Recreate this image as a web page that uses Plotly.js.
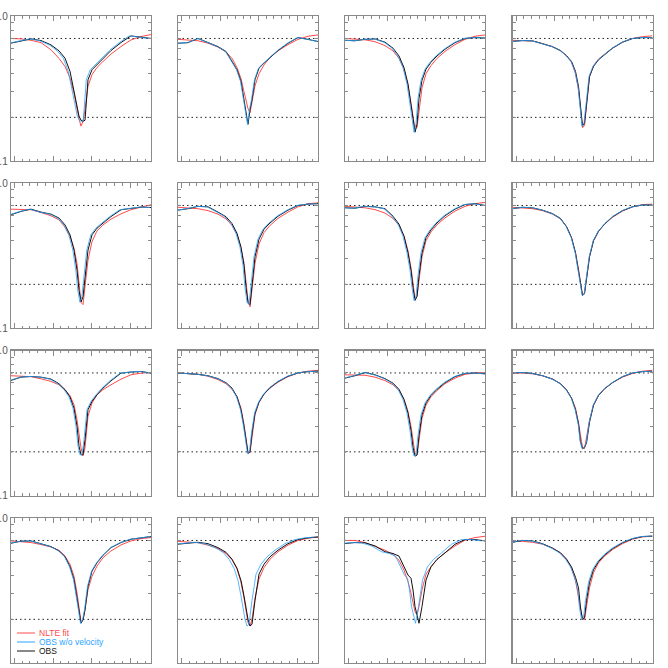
<!DOCTYPE html>
<html>
<head>
<meta charset="utf-8">
<script src="https://cdn.plot.ly/plotly-3.0.1.min.js"></script>
<style>html,body{margin:0;padding:0;background:#fff;}#chart{width:668px;height:668px;}</style>
</head>
<body>
<div id="chart"></div>
<script>
// wavelength offset from line centre (arbitrary units)
const xGrid = [-0.70,-0.60,-0.50,-0.40,-0.30,-0.22,-0.16,-0.11,-0.07,-0.04,-0.02,0,0.02,0.04,0.07,0.11,0.16,0.22,0.30,0.40,0.50,0.60,0.70];

// NLTE fit profiles, panels 1..16 (row by row)
const nlteFit1  = [0.700,0.695,0.680,0.655,0.585,0.510,0.449,0.373,0.294,0.226,0.195,0.174,0.188,0.226,0.327,0.394,0.442,0.486,0.546,0.616,0.684,0.721,0.745];
const nlteFit2  = [0.690,0.685,0.675,0.650,0.610,0.565,0.510,0.440,0.370,0.300,0.262,0.230,0.215,0.250,0.330,0.400,0.460,0.520,0.575,0.635,0.690,0.725,0.740];
const nlteFit3  = [0.700,0.695,0.685,0.665,0.625,0.575,0.510,0.430,0.330,0.250,0.200,0.165,0.170,0.220,0.320,0.400,0.455,0.510,0.570,0.635,0.690,0.725,0.740];
const nlteFit4  = [0.680,0.680,0.672,0.645,0.612,0.575,0.530,0.480,0.400,0.310,0.230,0.170,0.175,0.250,0.380,0.455,0.505,0.545,0.600,0.660,0.700,0.720,0.730];
const nlteFit5  = [0.660,0.657,0.654,0.626,0.594,0.557,0.496,0.427,0.355,0.279,0.214,0.150,0.145,0.192,0.294,0.394,0.468,0.514,0.563,0.613,0.654,0.682,0.708];
const nlteFit6  = [0.680,0.675,0.665,0.645,0.610,0.565,0.510,0.440,0.360,0.280,0.210,0.155,0.140,0.180,0.280,0.380,0.455,0.510,0.570,0.630,0.685,0.720,0.730];
const nlteFit7  = [0.690,0.685,0.675,0.655,0.620,0.570,0.510,0.430,0.340,0.260,0.200,0.160,0.165,0.210,0.310,0.400,0.460,0.515,0.575,0.640,0.690,0.720,0.735];
const nlteFit8  = [0.680,0.675,0.665,0.645,0.610,0.565,0.500,0.420,0.330,0.255,0.200,0.168,0.175,0.220,0.310,0.400,0.465,0.520,0.580,0.640,0.685,0.710,0.715];
const nlteFit9  = [0.670,0.666,0.660,0.638,0.612,0.580,0.537,0.488,0.423,0.333,0.256,0.213,0.188,0.213,0.352,0.434,0.495,0.537,0.580,0.635,0.680,0.698,0.706];
const nlteFit10 = [0.700,0.695,0.685,0.665,0.630,0.590,0.540,0.480,0.400,0.310,0.245,0.200,0.198,0.250,0.360,0.440,0.500,0.550,0.605,0.660,0.700,0.720,0.730];
const nlteFit11 = [0.680,0.680,0.675,0.655,0.620,0.580,0.530,0.460,0.380,0.300,0.240,0.195,0.190,0.240,0.340,0.420,0.480,0.530,0.590,0.645,0.685,0.700,0.705];
const nlteFit12 = [0.700,0.700,0.690,0.670,0.635,0.590,0.535,0.470,0.400,0.320,0.260,0.215,0.210,0.250,0.330,0.420,0.490,0.545,0.600,0.655,0.695,0.720,0.730];
const nlteFit13 = [0.695,0.688,0.677,0.656,0.631,0.599,0.547,0.479,0.397,0.304,0.245,0.193,0.198,0.233,0.321,0.397,0.466,0.532,0.593,0.652,0.695,0.721,0.733];
const nlteFit14 = [0.690,0.685,0.675,0.650,0.615,0.570,0.515,0.445,0.360,0.280,0.225,0.190,0.180,0.200,0.280,0.380,0.455,0.520,0.585,0.650,0.700,0.725,0.740];
const nlteFit15 = [0.700,0.700,0.677,0.639,0.600,0.560,0.512,0.437,0.364,0.303,0.258,0.226,0.215,0.245,0.319,0.410,0.461,0.518,0.575,0.642,0.703,0.733,0.748];
const nlteFit16 = [0.690,0.690,0.680,0.660,0.620,0.575,0.520,0.450,0.370,0.290,0.235,0.200,0.200,0.240,0.330,0.420,0.490,0.545,0.605,0.665,0.715,0.740,0.750];

// observed profiles (velocity corrected), panels 1..16
const obs1  = [0.650,0.670,0.695,0.677,0.632,0.575,0.512,0.415,0.310,0.239,0.204,0.191,0.188,0.191,0.363,0.426,0.461,0.512,0.578,0.656,0.729,0.714,0.700];
const obs2  = [0.649,0.655,0.700,0.660,0.615,0.569,0.486,0.426,0.354,0.272,0.215,0.179,0.226,0.265,0.364,0.437,0.473,0.518,0.578,0.649,0.710,0.690,0.667];
const obs3  = [0.680,0.675,0.690,0.695,0.660,0.600,0.530,0.440,0.340,0.250,0.190,0.158,0.180,0.270,0.360,0.430,0.480,0.530,0.590,0.655,0.700,0.710,0.705];
const obs4  = [0.667,0.677,0.674,0.642,0.615,0.578,0.532,0.486,0.415,0.327,0.239,0.174,0.183,0.252,0.383,0.449,0.499,0.540,0.600,0.660,0.699,0.710,0.710];
const obs5  = [0.604,0.637,0.660,0.630,0.610,0.573,0.514,0.439,0.345,0.251,0.182,0.151,0.164,0.226,0.345,0.439,0.488,0.529,0.587,0.654,0.667,0.682,0.678];
const obs6  = [0.650,0.665,0.690,0.685,0.630,0.585,0.525,0.450,0.360,0.270,0.190,0.150,0.145,0.200,0.310,0.410,0.480,0.530,0.590,0.650,0.700,0.715,0.720];
const obs7  = [0.675,0.670,0.690,0.685,0.665,0.590,0.520,0.430,0.330,0.250,0.190,0.155,0.165,0.230,0.330,0.420,0.475,0.530,0.595,0.660,0.710,0.720,0.700];
const obs8  = [0.665,0.680,0.675,0.650,0.615,0.570,0.500,0.420,0.330,0.250,0.195,0.168,0.172,0.220,0.310,0.400,0.465,0.520,0.585,0.645,0.685,0.705,0.705];
const obs9  = [0.622,0.655,0.662,0.655,0.635,0.590,0.537,0.478,0.400,0.300,0.219,0.191,0.191,0.243,0.391,0.446,0.495,0.550,0.618,0.698,0.710,0.717,0.698];
const obs10 = [0.700,0.695,0.685,0.670,0.640,0.600,0.550,0.480,0.390,0.300,0.235,0.195,0.200,0.270,0.370,0.440,0.500,0.555,0.610,0.665,0.700,0.715,0.720];
const obs11 = [0.645,0.670,0.705,0.680,0.640,0.595,0.540,0.460,0.370,0.280,0.215,0.187,0.190,0.260,0.360,0.435,0.490,0.540,0.600,0.660,0.695,0.700,0.690];
const obs12 = [0.700,0.705,0.695,0.670,0.635,0.590,0.535,0.470,0.390,0.310,0.235,0.210,0.215,0.230,0.320,0.420,0.490,0.545,0.600,0.660,0.700,0.715,0.720];
const obs13 = [0.670,0.692,0.695,0.666,0.635,0.593,0.541,0.461,0.376,0.281,0.220,0.188,0.198,0.233,0.338,0.430,0.491,0.553,0.625,0.677,0.714,0.733,0.745];
const obs14 = [0.660,0.670,0.680,0.665,0.625,0.580,0.520,0.450,0.370,0.290,0.235,0.200,0.180,0.185,0.270,0.410,0.480,0.540,0.600,0.665,0.710,0.730,0.740];
const obs15 = [0.667,0.677,0.674,0.642,0.585,0.569,0.546,0.461,0.404,0.384,0.319,0.245,0.209,0.188,0.245,0.373,0.461,0.518,0.575,0.659,0.710,0.710,0.695];
const obs16 = [0.680,0.700,0.695,0.665,0.620,0.575,0.520,0.460,0.390,0.330,0.240,0.200,0.205,0.270,0.360,0.440,0.500,0.555,0.615,0.675,0.720,0.745,0.750];

// line-of-sight velocity shift (wavelength units) removed from the observations
const velocityShift = [0.017,0.005,0.010,0.005,0.012,0.010,0.010,0.003,0.010,0.005,0.010,0.003,0.005,0.030,0.035,0.010];

const nlteFits = [nlteFit1,nlteFit2,nlteFit3,nlteFit4,nlteFit5,nlteFit6,nlteFit7,nlteFit8,nlteFit9,nlteFit10,nlteFit11,nlteFit12,nlteFit13,nlteFit14,nlteFit15,nlteFit16];
const observed = [obs1,obs2,obs3,obs4,obs5,obs6,obs7,obs8,obs9,obs10,obs11,obs12,obs13,obs14,obs15,obs16];

const refLevels = [0.7, 0.2];
const yTickVals = [0.1,0.2,0.3,0.4,0.5,0.6,0.7,0.8,0.9,1.0];
const yTickText = ['0.1','','','','','','','','','1.0'];
const seriesNames = ['NLTE fit','OBS w/o velocity','OBS'];

const W = 668, H = 668;
const colLeft = [11, 178, 345, 512.5];
const rowTop = [16, 183, 350.5, 518];
const pw = 140, ph = 145;

const RED = '#ff4a4a', BLUE = '#2aa5ff', BLACK = '#111111', AXC = '#8a8a8a';

const traces = [];
const layout = {
  width: W, height: H, margin: {l:0, r:0, t:0, b:0},
  paper_bgcolor: '#fff', plot_bgcolor: '#fff', showlegend: false,
  shapes: [], annotations: []
};

for (let i = 0; i < 16; i++) {
  const r = Math.floor(i / 4), c = i % 4;
  const xs = i === 0 ? '' : String(i + 1);
  const xa = 'x' + xs, ya = 'y' + xs;
  const blueX = xGrid.map(v => v - velocityShift[i]);
  traces.push({x: xGrid, y: nlteFits[i], xaxis: xa, yaxis: ya, type: 'scatter', mode: 'lines', line: {color: RED, width: 1}, hoverinfo: 'skip'});
  traces.push({x: xGrid, y: observed[i], xaxis: xa, yaxis: ya, type: 'scatter', mode: 'lines', line: {color: BLACK, width: 1}, hoverinfo: 'skip'});
  traces.push({x: blueX, y: observed[i], xaxis: xa, yaxis: ya, type: 'scatter', mode: 'lines', line: {color: BLUE, width: 1}, opacity: 0.8, hoverinfo: 'skip'});

  const x0 = colLeft[c] / W, x1 = (colLeft[c] + pw) / W;
  const y1 = 1 - rowTop[r] / H, y0 = 1 - (rowTop[r] + ph) / H;
  layout['xaxis' + xs] = {
    domain: [x0, x1], anchor: ya, range: [-0.7, 0.7],
    showgrid: false, zeroline: false, showline: true, linecolor: AXC, linewidth: 1.3, mirror: 'ticks',
    ticks: 'inside', ticklen: 5, tickcolor: AXC, tickwidth: 1,
    tickmode: 'linear', tick0: -0.28, dtick: 0.385, showticklabels: false,
    minor: {ticks: 'inside', ticklen: 2.5, tickcolor: AXC, tickwidth: 1, tick0: -0.28, dtick: 0.077}
  };
  layout['yaxis' + xs] = {
    domain: [y0, y1], anchor: xa, type: 'log', range: [-1, 0],
    showgrid: false, zeroline: false, showline: true, linecolor: AXC, linewidth: 1.3, mirror: 'ticks',
    ticks: 'inside', ticklen: 3, tickcolor: AXC, tickwidth: 1,
    tickmode: 'array', tickvals: yTickVals, ticktext: yTickText,
    showticklabels: c === 0, tickfont: {family: 'Liberation Sans, Arial, sans-serif', size: 10, color: '#555'}
  };
  refLevels.forEach(lv => {
    layout.shapes.push({type: 'line', xref: xa + ' domain', yref: ya, x0: 0, x1: 1, y0: lv, y1: lv,
      line: {color: '#222', width: 1, dash: '1.5px,3px'}, layer: 'below'});
  });
}

// legend in the bottom-left panel
const legColors = [RED, BLUE, BLACK];
const legY = [633, 642, 651];
seriesNames.forEach((nm, k) => {
  layout.shapes.push({type: 'line', xref: 'paper', yref: 'paper', x0: 17/W, x1: 35/W, y0: 1 - legY[k]/H, y1: 1 - legY[k]/H,
    line: {color: legColors[k], width: 1}});
  layout.annotations.push({xref: 'paper', yref: 'paper', x: 38/W, y: 1 - legY[k]/H, xanchor: 'left', yanchor: 'middle',
    text: nm, showarrow: false, borderpad: 0, font: {family: 'Liberation Sans, Arial, sans-serif', size: 8.5, color: legColors[k]}});
});

Plotly.newPlot('chart', traces, layout, {staticPlot: true, displayModeBar: false});
</script>
</body>
</html>
